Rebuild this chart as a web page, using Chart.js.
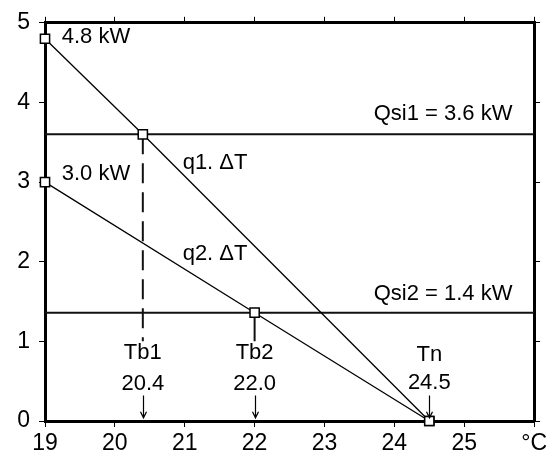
<!DOCTYPE html>
<html>
<head>
<meta charset="utf-8">
<script src="https://cdn.jsdelivr.net/npm/chart.js@4/dist/chart.umd.min.js"></script>
<style>
  html, body { margin: 0; padding: 0; background: #fff; }
</style>
</head>
<body>
<canvas id="myChart" width="550" height="461"></canvas>
<script>
// axis ticks
var xTicks = [19, 20, 21, 22, 23, 24, 25, 26];
var xTickLabels = ['19', '20', '21', '22', '23', '24', '25', '°C'];
var yTicks = [0, 1, 2, 3, 4, 5];

// q1.dT line (kW vs °C)
var q1Temps = [19, 20.4, 24.5];
var q1Loads = [4.8, 3.6, 0];

// q2.dT line
var q2Temps = [19, 22, 24.5];
var q2Loads = [3.0, 1.36, 0];

// solar gain levels
var qsiTemps = [19, 26];
var qsi1Loads = [3.6, 3.6];
var qsi2Loads = [1.36, 1.36];

// drop lines from the intersections
var tb1Temps = [20.4, 20.4];
var tb1Loads = [3.6, 1.0];
var tb2Temps = [22, 22];
var tb2Loads = [1.36, 1.0];

// little arrows pointing at the axis
var arrowTemps = [20.4, 22, 24.5];
var arrowTop = 0.32;
var arrowBottom = 0.04;

// text notes (data units)
var noteTexts = ['4.8 kW', '3.0 kW', 'q1. ΔT', 'q2. ΔT', 'Qsi1 = 3.6 kW', 'Qsi2 = 1.4 kW',
                 'Tb1', '20.4', 'Tb2', '22.0', 'Tn', '24.5'];
var noteX = [19.24, 19.24, 20.97, 20.97, 25.69, 25.69, 20.4, 20.4, 22, 22, 24.5, 24.5];
var noteY = [4.82, 3.1, 3.24, 2.1, 3.86, 1.6, 0.85, 0.47, 0.85, 0.47, 0.83, 0.48];
var noteAlign = ['left', 'left', 'left', 'left', 'right', 'right',
                 'center', 'center', 'center', 'center', 'center', 'center'];

var FONT = '"Liberation Sans", Arial, sans-serif';

function toPoints(xs, ys) {
    var pts = [];
    for (var i = 0; i < xs.length; i++) pts.push({x: xs[i], y: ys[i]});
    return pts;
}

// plugin for the text notes and arrows
var notesPlugin = {
    id: 'notes',
    afterDatasetsDraw: function(chart) {
        var ctx = chart.ctx;
        var xs = chart.scales.x, ys = chart.scales.y;
        ctx.save();
        ctx.fillStyle = '#000';
        ctx.font = '22px ' + FONT;
        ctx.textBaseline = 'middle';
        for (var i = 0; i < noteTexts.length; i++) {
            ctx.textAlign = noteAlign[i];
            ctx.fillText(noteTexts[i], xs.getPixelForValue(noteX[i]), ys.getPixelForValue(noteY[i]));
        }
        ctx.strokeStyle = '#000';
        ctx.lineWidth = 1.2;
        for (var j = 0; j < arrowTemps.length; j++) {
            var px = Math.round(xs.getPixelForValue(arrowTemps[j])) + 0.5;
            var top = ys.getPixelForValue(arrowTop);
            var bot = ys.getPixelForValue(arrowBottom);
            ctx.beginPath();
            ctx.moveTo(px, top);
            ctx.lineTo(px, bot);
            ctx.moveTo(px - 3, bot - 6);
            ctx.lineTo(px, bot);
            ctx.lineTo(px + 3, bot - 6);
            ctx.stroke();
        }
        ctx.restore();
    }
};

var tickFont = { family: FONT, size: 23 };

function frameAxis(pos, size) {
    return {
        type: 'linear',
        position: pos,
        min: (pos === 'top') ? 19 : 0,
        max: (pos === 'top') ? 26 : 5,
        afterBuildTicks: function(scale) {
            var vals = (pos === 'top') ? xTicks : yTicks;
            scale.ticks = vals.map(function(v) { return {value: v}; });
        },
        afterFit: function(scale) {
            if (pos === 'top') scale.height = size; else scale.width = size;
        },
        grid: { drawOnChartArea: false, drawTicks: true, tickLength: 6, color: '#000', lineWidth: 1 },
        border: { color: '#000', width: 3 },
        ticks: { display: false }
    };
}

var ctx = document.getElementById('myChart').getContext('2d');
var chart = new Chart(ctx, {
    type: 'scatter',
    data: {
        datasets: [
            {
                label: 'q1',
                data: toPoints(q1Temps, q1Loads),
                showLine: true,
                borderColor: '#000',
                borderWidth: 1.3,
                pointStyle: 'rect',
                pointRadius: 6.5,
                pointBorderWidth: 1.5,
                pointBackgroundColor: '#fff',
                pointBorderColor: '#000',
                clip: false,
                order: 0
            },
            {
                label: 'q2',
                data: toPoints(q2Temps, q2Loads),
                showLine: true,
                borderColor: '#000',
                borderWidth: 1.3,
                pointStyle: 'rect',
                pointRadius: 6.5,
                pointBorderWidth: 1.5,
                pointBackgroundColor: '#fff',
                pointBorderColor: '#000',
                clip: false,
                order: 0
            },
            {
                label: 'Qsi1',
                data: toPoints(qsiTemps, qsi1Loads),
                showLine: true,
                borderColor: '#111',
                borderWidth: 2,
                pointRadius: 0,
                order: 1
            },
            {
                label: 'Qsi2',
                data: toPoints(qsiTemps, qsi2Loads),
                showLine: true,
                borderColor: '#111',
                borderWidth: 2,
                pointRadius: 0,
                order: 1
            },
            {
                label: 'Tb1',
                data: toPoints(tb1Temps, tb1Loads),
                showLine: true,
                borderColor: '#111',
                borderWidth: 2,
                borderDash: [20, 9],
                pointRadius: 0,
                order: 1
            },
            {
                label: 'Tb2',
                data: toPoints(tb2Temps, tb2Loads),
                showLine: true,
                borderColor: '#111',
                borderWidth: 2,
                pointRadius: 0,
                order: 1
            }
        ]
    },
    options: {
        responsive: false,
        animation: false,
        devicePixelRatio: 1,
        layout: { padding: 0 },
        plugins: {
            legend: { display: false },
            tooltip: { enabled: false }
        },
        scales: {
            x: {
                type: 'linear',
                position: 'bottom',
                min: 19,
                max: 26,
                afterBuildTicks: function(scale) {
                    scale.ticks = xTicks.map(function(v) { return {value: v}; });
                },
                afterFit: function(scale) { scale.height = 40; },
                grid: { drawOnChartArea: false, drawTicks: true, tickLength: 6, color: '#000', lineWidth: 1 },
                border: { color: '#000', width: 3 },
                ticks: {
                    color: '#000',
                    font: tickFont,
                    padding: 3,
                    maxRotation: 0,
                    autoSkip: false,
                    callback: function(value) {
                        var k = xTicks.indexOf(value);
                        return k >= 0 ? xTickLabels[k] : '';
                    }
                }
            },
            y: {
                type: 'linear',
                position: 'left',
                min: 0,
                max: 5,
                afterBuildTicks: function(scale) {
                    scale.ticks = yTicks.map(function(v) { return {value: v}; });
                },
                afterFit: function(scale) { scale.width = 45; },
                grid: { drawOnChartArea: false, drawTicks: true, tickLength: 6, color: '#000', lineWidth: 1 },
                border: { color: '#000', width: 3 },
                ticks: { color: '#000', font: tickFont, padding: 9 }
            },
            xTop: frameAxis('top', 20),
            yRight: frameAxis('right', 15)
        }
    },
    plugins: [notesPlugin]
});
</script>
</body>
</html>
